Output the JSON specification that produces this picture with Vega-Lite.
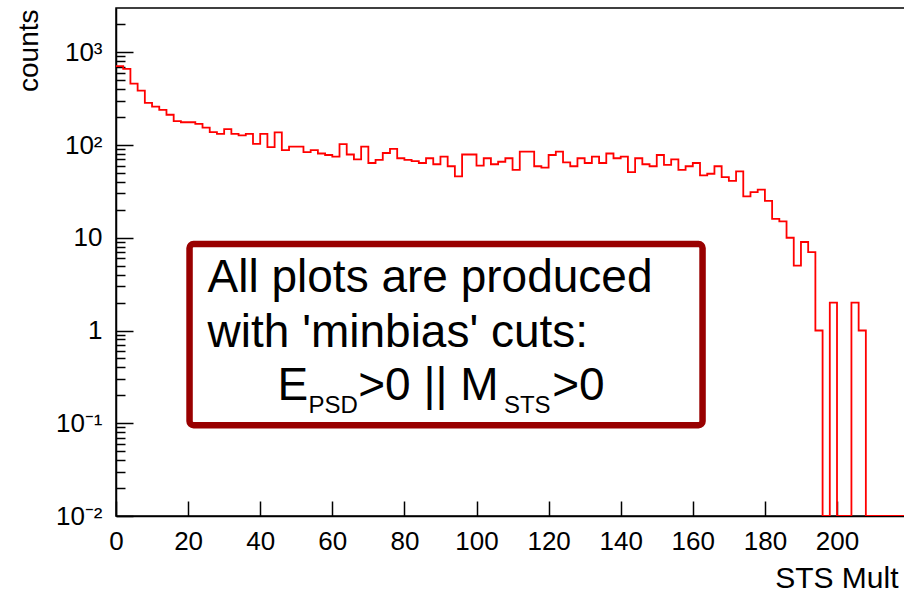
{
  "$schema": "https://vega.github.io/schema/vega-lite/v6.json",
  "width": 789,
  "height": 508,
  "autosize": {"type": "none"},
  "padding": {"left": 116, "top": 8, "right": 0, "bottom": 79},
  "background": "white",
  "config": {"view": {"stroke": "black", "strokeWidth": 1.5}, "font": "Liberation Sans"},
  "datasets": {
    "hist": [
      {"x": 0, "count": 710}, {"x": 2, "count": 661}, {"x": 4, "count": 458}, {"x": 6, "count": 385},
      {"x": 8, "count": 284}, {"x": 10, "count": 259}, {"x": 12, "count": 239}, {"x": 14, "count": 212},
      {"x": 16, "count": 181}, {"x": 18, "count": 176}, {"x": 20, "count": 176}, {"x": 22, "count": 169},
      {"x": 24, "count": 154}, {"x": 26, "count": 138}, {"x": 28, "count": 132}, {"x": 30, "count": 148},
      {"x": 32, "count": 132}, {"x": 34, "count": 127}, {"x": 36, "count": 132}, {"x": 38, "count": 103},
      {"x": 40, "count": 132}, {"x": 42, "count": 95}, {"x": 44, "count": 137}, {"x": 46, "count": 88},
      {"x": 48, "count": 96}, {"x": 50, "count": 96}, {"x": 52, "count": 84}, {"x": 54, "count": 88},
      {"x": 56, "count": 81}, {"x": 58, "count": 78}, {"x": 60, "count": 75}, {"x": 62, "count": 102},
      {"x": 64, "count": 79}, {"x": 66, "count": 70}, {"x": 68, "count": 96}, {"x": 70, "count": 64},
      {"x": 72, "count": 69}, {"x": 74, "count": 82}, {"x": 76, "count": 91}, {"x": 78, "count": 72},
      {"x": 80, "count": 69}, {"x": 82, "count": 67}, {"x": 84, "count": 64}, {"x": 86, "count": 72},
      {"x": 88, "count": 62}, {"x": 90, "count": 75}, {"x": 92, "count": 59}, {"x": 94, "count": 46},
      {"x": 96, "count": 79}, {"x": 98, "count": 79}, {"x": 100, "count": 60}, {"x": 102, "count": 72},
      {"x": 104, "count": 62}, {"x": 106, "count": 66}, {"x": 108, "count": 72}, {"x": 110, "count": 54},
      {"x": 112, "count": 85}, {"x": 114, "count": 85}, {"x": 116, "count": 59}, {"x": 118, "count": 57},
      {"x": 120, "count": 78}, {"x": 122, "count": 85}, {"x": 124, "count": 65}, {"x": 126, "count": 59},
      {"x": 128, "count": 72}, {"x": 130, "count": 64}, {"x": 132, "count": 75}, {"x": 134, "count": 64},
      {"x": 136, "count": 81}, {"x": 138, "count": 72}, {"x": 140, "count": 75}, {"x": 142, "count": 51},
      {"x": 144, "count": 72}, {"x": 146, "count": 62}, {"x": 148, "count": 59}, {"x": 150, "count": 78},
      {"x": 152, "count": 61}, {"x": 154, "count": 70}, {"x": 156, "count": 54}, {"x": 158, "count": 59},
      {"x": 160, "count": 64}, {"x": 162, "count": 47}, {"x": 164, "count": 49}, {"x": 166, "count": 59},
      {"x": 168, "count": 45}, {"x": 170, "count": 41}, {"x": 172, "count": 52}, {"x": 174, "count": 28},
      {"x": 176, "count": 31}, {"x": 178, "count": 33}, {"x": 180, "count": 25}, {"x": 182, "count": 16},
      {"x": 184, "count": 15}, {"x": 186, "count": 10}, {"x": 188, "count": 5}, {"x": 190, "count": 9},
      {"x": 192, "count": 7}, {"x": 194, "count": 1}, {"x": 196, "count": 0}, {"x": 198, "count": 2},
      {"x": 200, "count": 0}, {"x": 202, "count": 0}, {"x": 204, "count": 2}, {"x": 206, "count": 1},
      {"x": 208, "count": 0}, {"x": 210, "count": 0}, {"x": 212, "count": 0}, {"x": 214, "count": 0},
      {"x": 216, "count": 0}, {"x": 218, "count": 0}, {"x": 220, "count": 0}
    ],
    "box": [{"x1": 20.4, "x2": 162.7, "y1": 0.0953, "y2": 8.55}],
    "notes": [
      {"text": "All plots are produced", "x": 25.4, "y": 2.59},
      {"text": "with 'minbias' cuts:", "x": 25.4, "y": 0.662},
      {"text": "E", "x": 44.8, "y": 0.1775},
      {"text": ">0 || M", "x": 67.2, "y": 0.1775},
      {"text": ">0", "x": 121.0, "y": 0.1775}
    ],
    "subs": [
      {"text": "PSD", "x": 53.4, "y": 0.1285},
      {"text": "STS", "x": 107.6, "y": 0.1285}
    ]
  },
  "layer": [
    {
      "data": {"name": "hist"},
      "mark": {"type": "line", "interpolate": "step-after", "color": "#ff0000", "strokeWidth": 1.8, "invalid": "show", "clip": true},
      "encoding": {
        "x": {
          "field": "x", "type": "quantitative",
          "scale": {"domain": [0, 218.86], "nice": false, "zero": false},
          "axis": {
            "title": "STS Mult",
            "values": [0, 20, 40, 60, 80, 100, 120, 140, 160, 180, 200],
            "grid": false,
            "tickSize": -15, "tickColor": "black", "tickWidth": 1.5,
            "domainColor": "black", "domainWidth": 1.5,
            "labelFont": "Liberation Sans", "labelFontSize": 26, "labelColor": "black",
            "labelPadding": 27, "labelFlush": false, "labelOverlap": false,
            "titleFont": "Liberation Sans", "titleFontSize": 30, "titleFontWeight": "normal", "titleColor": "black",
            "titleAnchor": "end", "titleAlign": "right", "titleBaseline": "alphabetic",
            "titleX": 782, "titleY": 71
          }
        },
        "y": {
          "field": "count", "type": "quantitative",
          "scale": {"type": "log", "domain": [0.01, 3000], "nice": false, "clamp": true},
          "axis": {
            "title": "counts",
            "values": [0.01, 0.02, 0.03, 0.04, 0.05, 0.06, 0.07, 0.08, 0.09,
                       0.1, 0.2, 0.3, 0.4, 0.5, 0.6, 0.7, 0.8, 0.9,
                       1, 2, 3, 4, 5, 6, 7, 8, 9,
                       10, 20, 30, 40, 50, 60, 70, 80, 90,
                       100, 200, 300, 400, 500, 600, 700, 800, 900,
                       1000, 2000],
            "labelExpr": "datum.value == 1000 ? '10³' : datum.value == 100 ? '10²' : datum.value == 10 ? '10' : datum.value == 1 ? '1' : datum.value == 0.1 ? '10⁻¹' : datum.value == 0.01 ? '10⁻²' : ''",
            "grid": false,
            "tickSize": {"condition": {"test": "indexof([0.01, 0.1, 1, 10, 100, 1000], datum.value) >= 0", "value": -17}, "value": -9},
            "tickColor": "black", "tickWidth": 1.5,
            "domainColor": "black", "domainWidth": 1.5,
            "labelFont": "Liberation Sans", "labelFontSize": 26, "labelColor": "black",
            "labelPadding": 31, "labelFlush": false, "labelOverlap": false,
            "titleFont": "Liberation Sans", "titleFontSize": 28, "titleFontWeight": "normal", "titleColor": "black",
            "titleAngle": 270, "titleAlign": "right", "titleBaseline": "middle",
            "titleX": -87, "titleY": 1
          }
        }
      }
    },
    {
      "data": {"name": "box"},
      "mark": {"type": "rect", "fill": "white", "stroke": "#990000", "strokeWidth": 6.5, "cornerRadius": 4},
      "encoding": {
        "x": {"field": "x1", "type": "quantitative", "scale": {"domain": [0, 218.86], "nice": false, "zero": false}},
        "x2": {"field": "x2"},
        "y": {"field": "y1", "type": "quantitative", "scale": {"type": "log", "domain": [0.01, 3000], "nice": false, "clamp": true}},
        "y2": {"field": "y2"}
      }
    },
    {
      "data": {"name": "notes"},
      "mark": {"type": "text", "align": "left", "baseline": "alphabetic", "fontSize": 46, "font": "Liberation Sans", "color": "black"},
      "encoding": {
        "x": {"field": "x", "type": "quantitative", "scale": {"domain": [0, 218.86], "nice": false, "zero": false}},
        "y": {"field": "y", "type": "quantitative", "scale": {"type": "log", "domain": [0.01, 3000], "nice": false, "clamp": true}},
        "text": {"field": "text"}
      }
    },
    {
      "data": {"name": "subs"},
      "mark": {"type": "text", "align": "left", "baseline": "alphabetic", "fontSize": 24, "font": "Liberation Sans", "color": "black"},
      "encoding": {
        "x": {"field": "x", "type": "quantitative", "scale": {"domain": [0, 218.86], "nice": false, "zero": false}},
        "y": {"field": "y", "type": "quantitative", "scale": {"type": "log", "domain": [0.01, 3000], "nice": false, "clamp": true}},
        "text": {"field": "text"}
      }
    }
  ]
}
